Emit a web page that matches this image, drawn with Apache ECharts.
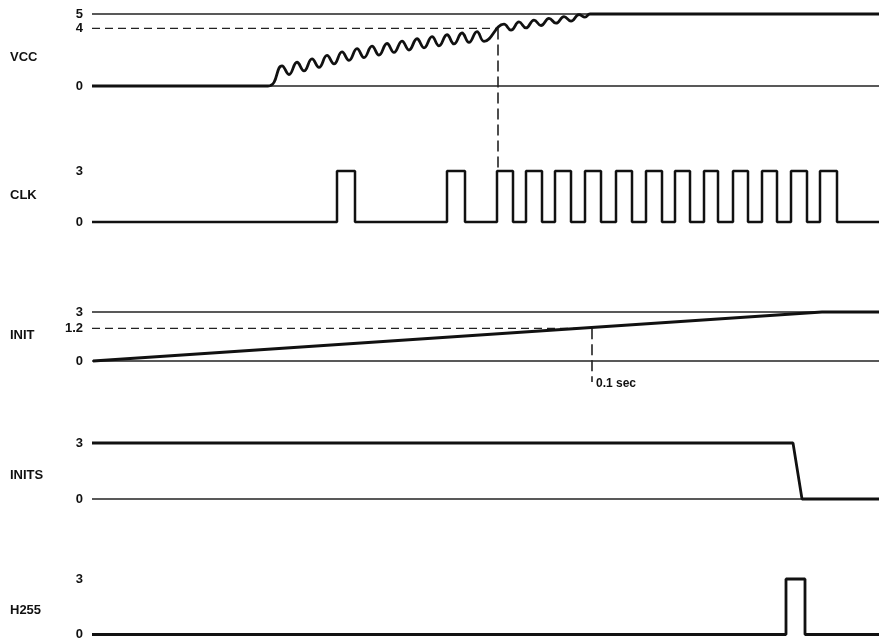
<!DOCTYPE html>
<html><head><meta charset="utf-8">
<script src="https://cdn.jsdelivr.net/npm/echarts@6/dist/echarts.min.js"></script>
<style>html,body{margin:0;padding:0;background:#fff}#c{width:879px;height:641px}</style>
</head><body><div id="c"></div>
<script>
// ---------- data (time in arbitrary units along the common time axis) ----------
const signalNames = ['VCC', 'CLK', 'INIT', 'INITS', 'H255'];
const timeMax = 787;

// VCC ramp (volts)
const vccTime  = [0, 176, 190, 197, 205, 212, 220, 227, 235, 242, 250, 257, 265, 272, 280, 287, 295, 302, 310, 317, 325, 332, 340, 347, 355, 362, 370, 377, 385, 392, 412, 419, 427, 434, 442, 449, 457, 464, 472, 479, 487, 493, 498, 787];
const vccVolts = [0, 0, 1.40, 0.80, 1.65, 1.05, 1.88, 1.29, 2.12, 1.53, 2.37, 1.78, 2.59, 1.97, 2.77, 2.15, 2.95, 2.33, 3.12, 2.50, 3.28, 2.65, 3.43, 2.79, 3.56, 2.92, 3.68, 3.03, 3.78, 3.10, 4.30, 3.88, 4.45, 4.03, 4.58, 4.20, 4.70, 4.36, 4.82, 4.50, 4.95, 4.78, 5.0, 5.0];
const vccTickValues = [0, 4, 5];
const vccThreshold = 4;        // dashed level
const vccThresholdTime = 406;  // when VCC reaches 4 V

// CLK pulses (level 3)
const clkHigh = 3;
const clkRise = [245, 355, 405, 434, 463, 493, 524, 554, 583, 612, 641, 670, 699, 728];
const clkFall = [263, 373, 421, 450, 479, 509, 540, 570, 598, 626, 656, 685, 715, 745];
const clkTickValues = [0, 3];

// INIT ramp (schematic levels; the "1.2" level is drawn at 2/3 of the 0..3 span)
const initTime  = [1, 730, 787];
const initLevel = [0, 3, 3];
const initTickLevels = [0, 2, 3];
const initTickLabels = ['0', '1.2', '3'];
const initThresholdLevel = 2;
const initThresholdTime = 500;  // 0.1 sec
const initMarkerText = '0.1 sec';

// INITS
const initsTime  = [0, 701, 710, 787];
const initsLevel = [3, 3, 0, 0];
const initsTickValues = [0, 3];

// H255 pulse
const h255Rise = [694];
const h255Fall = [713];
const h255High = 3;
const h255TickValues = [0, 3];

// ---------- layout ----------
const grids = [
  {top: 14,  height: 72},
  {top: 171, height: 51},
  {top: 312, height: 49},
  {top: 443, height: 56},
  {top: 579, height: 56}
];
const yMax = [5, 3, 3, 3, 3];
const namePad = [[14,0,0,0],[0,0,3,0],[0,0,3,0],[8,0,0,0],[7,0,0,0]];
const tickSets = [vccTickValues, clkTickValues, initTickLevels, initsTickValues, h255TickValues];

const INK = '#111';
const FONT = 'Liberation Sans, Arial, sans-serif';

function zip(a, b) { return a.map((v, i) => [v, b[i]]); }
function pulses(rise, fall, high) {
  const pts = [[0, 0]];
  rise.forEach((r, i) => { pts.push([r, 0], [r, high], [fall[i], high], [fall[i], 0]); });
  pts.push([timeMax, 0]);
  return pts;
}
function pxPerUnit(i) { return grids[i].height / yMax[i]; }

const thick = {color: INK, width: 2.8};
const thin = {color: '#222', width: 1.3};
const dashed = {color: '#222', width: 1.4, type: [8, 5]};

function line(gi, data, style, extra) {
  return Object.assign({
    type: 'line', xAxisIndex: gi, yAxisIndex: gi, data: data,
    showSymbol: false, symbol: 'none', lineStyle: style, clip: false,
    silent: true, z: style === thick ? 5 : 3
  }, extra || {});
}

// marker ends: VCC marker drops to the CLK high level, INIT marker drops below the 0 line
const vccMarkerEnd = -(grids[1].top - (grids[0].top + grids[0].height)) / pxPerUnit(0);
const initMarkerEnd = -21 / pxPerUnit(2);

const series = [
  // VCC
  line(0, [[0, 5], [timeMax, 5]], thin),
  line(0, [[0, 0], [timeMax, 0]], thin),
  line(0, [[0, vccThreshold], [vccThresholdTime, vccThreshold]], dashed),
  line(0, [[vccThresholdTime, vccThreshold], [vccThresholdTime, vccMarkerEnd]], {color: '#222', width: 1.6, type: [11, 5]}),
  line(0, zip(vccTime, vccVolts), thick, {smooth: 0.45}),
  // CLK
  line(1, pulses(clkRise, clkFall, clkHigh), {color: INK, width: 2.5}),
  // INIT
  line(2, [[0, 3], [timeMax, 3]], thin),
  line(2, [[0, 0], [timeMax, 0]], thin),
  line(2, [[0, initThresholdLevel], [initThresholdTime, initThresholdLevel]], dashed),
  line(2, [[initThresholdTime, initThresholdLevel], [initThresholdTime, initMarkerEnd]], {color: '#222', width: 1.6, type: [11, 5]}, {
    endLabel: {show: true, formatter: initMarkerText, distance: 4, offset: [0, 2], color: INK, fontFamily: FONT, fontWeight: 'bold', fontSize: 12}
  }),
  line(2, zip(initTime, initLevel), thick),
  // INITS
  line(3, [[0, 0], [timeMax, 0]], thin),
  line(3, zip(initsTime, initsLevel), thick),
  // H255
  line(4, pulses(h255Rise, h255Fall, h255High), thick)
];

const option = {
  animation: false,
  backgroundColor: '#fff',
  grid: grids.map(g => ({left: 92, right: 0, top: g.top, height: g.height})),
  xAxis: grids.map((g, i) => ({type: 'value', gridIndex: i, min: 0, max: timeMax, show: false})),
  yAxis: grids.map((g, i) => ({
    type: 'value', gridIndex: i, min: 0, max: yMax[i],
    axisLine: {show: false}, axisTick: {show: false}, splitLine: {show: false},
    axisLabel: {
      customValues: tickSets[i], margin: 9, color: INK, fontFamily: FONT, fontWeight: 'bold', fontSize: 13,
      formatter: i === 2 ? (v => initTickLabels[initTickLevels.indexOf(v)]) : (v => String(v))
    },
    name: '{n|' + signalNames[i] + '}', nameLocation: 'middle', nameRotate: 0, nameGap: 82,
    nameTextStyle: {
      align: 'left', verticalAlign: 'middle',
      rich: {n: {color: INK, fontFamily: FONT, fontWeight: 'bold', fontSize: 13, padding: namePad[i]}}
    }
  })),
  series: series
};

const chart = echarts.init(document.getElementById('c'), null, {renderer: 'canvas'});
chart.setOption(option);
</script>
</body></html>
